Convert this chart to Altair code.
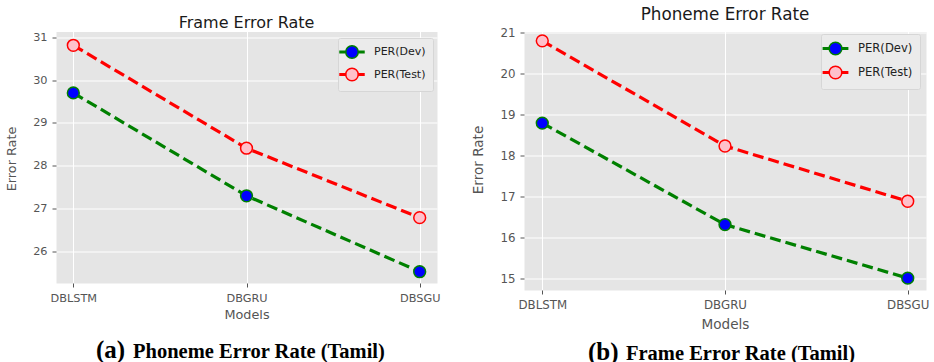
import altair as alt
import pandas as pd

models = ["DBLSTM", "DBGRU", "DBSGU"]
series_names = ["PER(Dev)", "PER(Test)"]

# Left panel: "Frame Error Rate"
fer_dev = [29.70, 27.30, 25.53]
fer_test = [30.81, 28.41, 26.79]
# Right panel: "Phoneme Error Rate"
per_dev = [18.79, 16.31, 15.00]
per_test = [20.80, 18.23, 16.88]

fer_ticks = [26, 27, 28, 29, 30, 31]
per_ticks = [15, 16, 17, 18, 19, 20, 21]

LABEL_GRAY = "#555555"
SANS = "DejaVu Sans"
SERIF = "Liberation Serif"

# legend symbol: dashed-line stubs on both sides of a circle marker
LEG_PATH = ("M-1.92,-0.12 L-0.98,-0.12 L-0.98,0.12 L-1.92,0.12 Z "
            "M0.98,-0.12 L1.92,-0.12 L1.92,0.12 L0.98,0.12 Z "
            "M1,0 A1,1 0 1,1 -1,0 A1,1 0 1,1 1,0 Z")


def make_df(dev, test):
    rows = []
    for m, v in zip(models, dev):
        rows.append({"model": m, "series": series_names[0], "value": v})
    for m, v in zip(models, test):
        rows.append({"model": m, "series": series_names[1], "value": v})
    return pd.DataFrame(rows)


def panel(dev, test, title, title_fs, title_offset, w, h, ydom, yticks,
          tick_fs, ax_title_fs, ytitle_x, ytitle_y, xtitle_y, leg_x, leg_y,
          leg_fs, leg_size, leg_rowpad, cap_a, cap_rest, cap_x_a, cap_x_rest,
          cap_y):
    df = make_df(dev, test)
    x = alt.X("model:N", sort=models,
              scale=alt.Scale(type="point", padding=0.1),
              axis=alt.Axis(title="Models", labelAngle=0, labelFont=SANS,
                            labelFontSize=tick_fs, labelColor=LABEL_GRAY,
                            titleFont=SANS, titleFontSize=ax_title_fs,
                            titleFontWeight="normal", titleColor=LABEL_GRAY,
                            titleY=xtitle_y, titleBaseline="middle",
                            tickSize=4, tickColor=LABEL_GRAY, labelPadding=5,
                            domain=False, grid=True, gridColor="white",
                            gridWidth=1))
    y = alt.Y("value:Q",
              scale=alt.Scale(domain=ydom, nice=False, zero=False),
              axis=alt.Axis(title="Error Rate", values=yticks, format="d",
                            labelFont=SANS, labelFontSize=tick_fs,
                            labelColor=LABEL_GRAY, titleFont=SANS,
                            titleFontSize=ax_title_fs, titleFontWeight="normal",
                            titleColor=LABEL_GRAY, titleX=ytitle_x,
                            titleY=ytitle_y, titleBaseline="middle",
                            titleAngle=-90, titleAlign="center",
                            tickSize=4, tickColor=LABEL_GRAY, labelPadding=5,
                            domain=False, grid=True, gridColor="white",
                            gridWidth=1))
    base = alt.Chart(df)
    line_dev = base.transform_filter(
        alt.datum.series == series_names[0]
    ).mark_line(color="#008000", strokeWidth=3.2, strokeDash=[11, 5]).encode(x=x, y=y)
    line_test = base.transform_filter(
        alt.datum.series == series_names[1]
    ).mark_line(color="#FF0000", strokeWidth=3.2, strokeDash=[11, 5]).encode(x=x, y=y)

    legend = alt.Legend(title=None, orient="none", legendX=leg_x, legendY=leg_y,
                        symbolType=LEG_PATH, symbolSize=leg_size,
                        symbolStrokeWidth=1.5, labelFont=SANS,
                        labelFontSize=leg_fs, labelColor="#222222",
                        labelOffset=15, rowPadding=leg_rowpad, padding=7,
                        fillColor="#EBEBEB", strokeColor="#D6D6D6",
                        cornerRadius=2)
    pts = base.mark_point(shape="circle", filled=True, size=140,
                          strokeWidth=1.5, opacity=1).encode(
        x=x, y=y,
        fill=alt.Fill("series:N",
                      scale=alt.Scale(domain=series_names,
                                      range=["#0000FF", "#FFC0CB"]),
                      legend=legend),
        stroke=alt.Stroke("series:N",
                          scale=alt.Scale(domain=series_names,
                                          range=["#008000", "#FF0000"]),
                          legend=legend),
    )
    cap1 = alt.Chart(pd.DataFrame({"t": [cap_a]})).mark_text(
        font=SERIF, fontWeight="bold", fontSize=25, align="left",
        baseline="alphabetic", color="black"
    ).encode(x=alt.value(cap_x_a), y=alt.value(cap_y), text="t:N")
    cap2 = alt.Chart(pd.DataFrame({"t": [cap_rest]})).mark_text(
        font=SERIF, fontWeight="bold", fontSize=20.5, align="left",
        baseline="alphabetic", color="black"
    ).encode(x=alt.value(cap_x_rest), y=alt.value(cap_y), text="t:N")

    return alt.layer(line_dev, line_test, pts, cap1, cap2).properties(
        width=w, height=h,
        title=alt.TitleParams(text=title, font=SANS, fontSize=title_fs,
                              fontWeight="normal", color="#1a1a1a",
                              anchor="middle", offset=title_offset),
    )


left = panel(fer_dev, fer_test, "Frame Error Rate", 16, 0, 381, 251.5,
             [25.266, 31.132], fer_ticks, 11.3, 12.8, -45, 127, 31, 282, 6.5,
             11, 156, 2.5, "(a)", "Phoneme Error Rate (Tamil)", 40, 77, 326.5)
right = panel(per_dev, per_test, "Phoneme Error Rate", 16.8, 3.5, 402, 258.5,
              [14.71, 21.029], per_ticks, 11.8, 13.6, -46, 128, 34, 297, 2.5,
              11.6, 160, 5, "(b)", "Frame Error Rate (Tamil)", 64, 102, 328.5)

chart = alt.hconcat(left, right, spacing=29).resolve_scale(
    x="independent", y="independent", fill="independent", stroke="independent"
).resolve_legend(fill="independent", stroke="independent").properties(
    background="white",
    padding={"left": 4, "top": 6.5, "right": 0, "bottom": 0},
).configure_view(fill="#E5E5E5", stroke="transparent")

chart.save("out.html", embed_options={"renderer": "svg", "actions": False})
